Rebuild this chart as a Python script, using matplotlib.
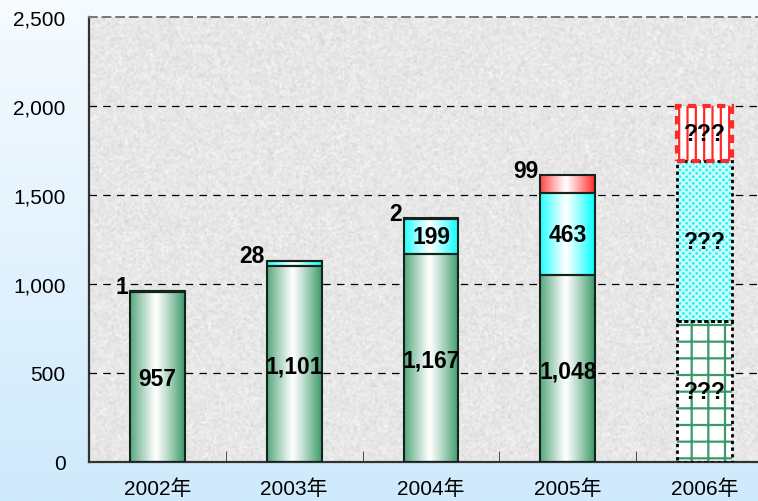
import numpy as np
import matplotlib
matplotlib.use("Agg")
import matplotlib.pyplot as plt
from matplotlib.colors import LinearSegmentedColormap, to_rgb

plt.rcParams['font.family'] = ['Liberation Sans', 'Noto Sans CJK SC', 'DejaVu Sans']
plt.rcParams['hatch.linewidth'] = 1.6

# data
years = ['2002年', '2003年', '2004年', '2005年', '2006年']
base = [957, 1101, 1167, 1048]      # green segment
middle = [1, 28, 199, 463]          # cyan segment
top = [0, 0, 2, 99]                 # red segment
top_labels = ['1', '28', '2', '99']
est_base = 790                      # 2006 forecast, shown as "???"
est_middle = 900
est_top = 310

GREEN = '#3c9a6a'
CYAN = '#00ffff'
RED = '#ff2a2a'
W = 0.4

fig = plt.figure(figsize=(7.58, 5.02), dpi=100)

# figure background: white-ish at top to pale blue at bottom
bg = fig.add_axes([0, 0, 1, 1], zorder=-5)
grad = np.linspace(0, 1, 256)[:, None]
bg_cmap = LinearSegmentedColormap.from_list('bg', ['#f6fbff', '#cfeafc'])
bg.imshow(grad, aspect='auto', cmap=bg_cmap, extent=[0, 1, 0, 1])
bg.set_axis_off()

ax = fig.add_axes([89 / 758, 39 / 502, 669 / 758, 445 / 502])
ax.set_xlim(-0.49, 4.39)
ax.set_ylim(0, 2500)

# granite-like plot background
rng = np.random.default_rng(3)
tex = rng.normal(0.905, 0.025, (220, 330))
ax.imshow(tex, cmap='gray', vmin=0, vmax=1, aspect='auto', interpolation='bilinear',
          extent=[0, 1, 0, 1], transform=ax.transAxes, zorder=0)


def shade(bars, color):
    c = np.array(to_rgb(color))
    xs = np.linspace(0, 1, 200)
    # white peak a bit left of centre
    t = np.clip(np.abs(xs - 0.47) / 0.53, 0, 1) ** 1.1
    row = (1 - t)[:, None] * np.ones(3) + t[:, None] * c
    img = row[None, :, :]
    for b in bars:
        x0, y0 = b.get_x(), b.get_y()
        h = b.get_height()
        if h <= 0:
            continue
        im = ax.imshow(img, aspect='auto', extent=[x0, x0 + b.get_width(), y0, y0 + h],
                       zorder=2, interpolation='bilinear')
        im.set_clip_path(b)


x = np.arange(len(base))
bottom2 = np.array(base) + np.array(middle)
tot = bottom2 + np.array(top)

b1 = ax.bar(x, base, W, color='none', edgecolor='#14241b', lw=1.5, zorder=3)
b2 = ax.bar(x, middle, W, bottom=base, color='none', edgecolor='#14241b', lw=1.5, zorder=3)
b3 = ax.bar(x, top, W, bottom=bottom2, color='none', edgecolor='#14241b', lw=1.5, zorder=3)
shade(b1, GREEN)
shade(b2, CYAN)
shade(b3, RED)

lab = dict(fontsize=16.5, fontweight='bold', ha='center', va='center', zorder=5)
for i in x:
    ax.text(i, base[i] / 2 - 10, f'{base[i]:,}', **lab)
    if middle[i] > 100:
        ax.text(i, base[i] + middle[i] / 2, f'{middle[i]:,}', **lab)
    ax.text(i - W / 2 - 0.015, tot[i] + 30, top_labels[i], fontsize=16.5,
            fontweight='bold', ha='right', va='center', zorder=5)

# 2006 forecast bar
k = 4
ax.bar(k, est_base, W, color='white', edgecolor=GREEN, hatch='+', lw=0, zorder=2)
ax.bar(k, est_middle, W, bottom=est_base, color='#22eeee', edgecolor='#c8ffff',
       hatch='xxxxx', lw=0, zorder=2)
ax.bar(k, est_top, W, bottom=est_base + est_middle, color='white', edgecolor=RED,
       hatch='||', lw=0, zorder=2)
ax.bar(k, est_base, W, color='none', edgecolor='black', lw=2, ls=(0, (1.2, 1.2)), zorder=3)
ax.bar(k, est_middle, W, bottom=est_base, color='none', edgecolor='black', lw=2,
       ls=(0, (1.2, 1.2)), zorder=3)
ax.bar(k, est_top, W, bottom=est_base + est_middle, color='none', edgecolor=RED, lw=3,
       ls=(0, (2, 1.5)), zorder=3)
for yv in [est_base / 2, est_base + est_middle / 2, est_base + est_middle + est_top / 2]:
    ax.text(k, yv, '???', **lab)

# grid and axes
for yv in [500, 1000, 1500, 2000]:
    ax.axhline(yv, color='black', lw=0.9, ls=(0, (6, 5)), zorder=1)

ax.set_xticks(np.arange(len(years)))
ax.set_xticklabels(years, fontsize=15)
ax.set_xticks(np.arange(len(years)) - 0.5, minor=True)
ax.tick_params(axis='x', which='major', length=0, pad=12)
ax.tick_params(axis='x', which='minor', length=8, direction='in', color='#333333')
ax.set_yticks([0, 500, 1000, 1500, 2000, 2500])
ax.set_yticklabels(['0', '500', '1,000', '1,500', '2,000', '2,500'], fontsize=15)
ax.tick_params(axis='y', length=0, pad=17)

for s in ['left', 'bottom']:
    ax.spines[s].set_color('#333333')
    ax.spines[s].set_linewidth(1.6)
ax.spines['right'].set_visible(False)
ax.spines['top'].set_color('#777777')
ax.spines['top'].set_linestyle((0, (4, 3)))
ax.spines['top'].set_linewidth(1.4)

fig.savefig('out.png', dpi=100)
